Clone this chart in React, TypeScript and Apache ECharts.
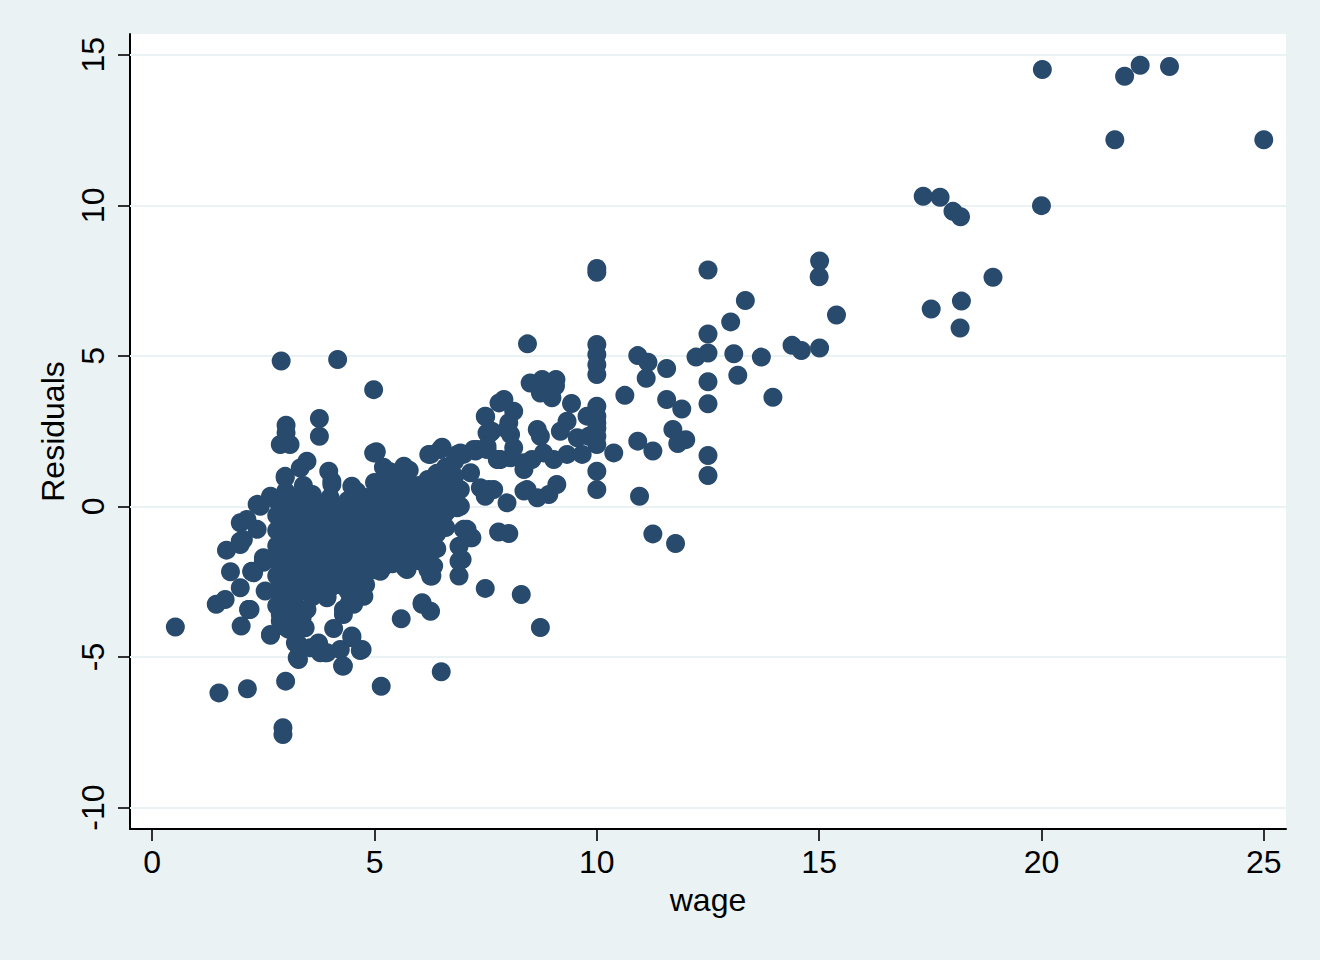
import React, { useEffect, useRef } from "react";
import * as echarts from "echarts";

// wage vs residuals
const xTicks = [0, 5, 10, 15, 20, 25];
const yTicks = [-10, -5, 0, 5, 10, 15];

// outlying / edge points: [wage, residual]
const upperPoints: number[][] = [
  [20.02, 14.51], [21.87, 14.29], [22.22, 14.65], [22.88, 14.61], [21.65, 12.18], [25.0, 12.18],
  [17.34, 10.3], [17.72, 10.27], [18.01, 9.8], [18.18, 9.62], [20.0, 9.99], [18.91, 7.61],
  [18.2, 6.82], [17.52, 6.56], [18.17, 5.93],
  [10.0, 7.9], [10.0, 7.78], [12.5, 7.85], [15.01, 8.15], [15.0, 7.63], [13.34, 6.84], [15.39, 6.36],
  [13.01, 6.13], [12.5, 5.73], [8.44, 5.4], [10.0, 5.38], [10.0, 5.05], [10.0, 4.71], [10.0, 4.38],
  [10.92, 5.01], [11.15, 4.79], [11.11, 4.26], [11.57, 4.58], [12.23, 4.96], [12.5, 5.1], [13.08, 5.07],
  [13.17, 4.36], [13.7, 4.96], [14.39, 5.35], [14.6, 5.18], [15.01, 5.26], [12.5, 4.14], [12.5, 3.41],
  [13.96, 3.63], [10.63, 3.69], [11.57, 3.55], [11.91, 3.24], [11.71, 2.56], [12.0, 2.22], [11.82, 2.09],
  [10.92, 2.17], [11.26, 1.84], [12.5, 1.69], [12.5, 1.03], [10.96, 0.34], [11.26, -0.91], [11.77, -1.23],
];

const middlePoints: number[][] = [
  [10.0, 3.33], [10.0, 3.0], [10.0, 2.78], [10.0, 2.6], [10.0, 2.33], [10.0, 2.06], [10.0, 1.17], [10.0, 0.56],
  [9.78, 3.0], [9.43, 3.42], [9.08, 4.22], [8.5, 4.1], [8.77, 4.22], [8.73, 3.77], [8.99, 3.61], [9.07, 4.0],
  [8.9, 4.1], [7.91, 3.55], [8.13, 3.16], [7.49, 3.0], [7.64, 2.5], [8.02, 2.78], [8.06, 2.39], [8.66, 2.56],
  [8.73, 2.33], [9.18, 2.5], [9.33, 2.83], [9.56, 2.28], [9.82, 2.33], [9.33, 1.73], [9.67, 1.73],
  [10.38, 1.78], [7.27, 1.84], [7.0, 1.73], [7.53, 1.89], [7.83, 1.56], [8.06, 1.62], [8.36, 1.45],
  [8.36, 1.23], [8.54, 1.56], [8.8, 1.78], [9.03, 1.56], [7.16, 1.12], [7.38, 0.62], [7.57, 0.56],
  [7.98, 0.12], [8.43, 0.56], [8.66, 0.29], [8.92, 0.4], [9.1, 0.73], [6.93, 0.56], [6.93, 0.01],
  [7.08, -0.76], [7.16, -1.04], [7.79, -0.85], [8.02, -0.9], [6.97, -1.76], [7.49, -2.72], [8.3, -2.92],
  [8.73, -4.02], [7.8, 3.44], [7.6, 2.44], [7.5, 2.98], [7.8, 1.56], [7.53, 2.44], [7.98, 2.56], [8.13, 1.95],
  [7.76, 1.56], [7.49, 0.34], [7.68, 0.56], [8.36, 0.51], [6.78, 0.51], [6.86, -0.04], [6.9, -1.32],
  [6.9, -1.82], [6.9, -2.31], [6.29, -2.31], [6.33, -1.98], [5.73, -2.04], [5.13, -2.15], [6.07, -3.2],
  [6.26, -3.48], [5.6, -3.73], [4.72, -4.75], [6.5, -5.49], [5.15, -5.97], [4.76, -2.98], [4.68, -2.31],
  [5.04, 1.82], [5.66, 1.34], [6.26, 1.73], [6.52, 1.97], [6.93, 1.78], [7.31, 1.89], [7.23, 1.89],
  [5.2, 1.3], [5.35, 1.15], [5.78, 1.2], [6.86, 1.73], [7.53, 2.0],
];

const lowerPoints: number[][] = [
  [2.9, 4.83], [4.17, 4.88], [4.98, 3.88], [3.01, 2.7], [3.01, 2.45], [2.88, 2.06], [3.1, 2.06],
  [3.76, 2.92], [3.76, 2.33], [3.48, 1.5], [3.33, 1.28], [3.97, 1.17], [4.04, 0.84], [2.99, 0.95],
  [4.49, 0.67], [4.98, 1.78], [1.98, -0.54], [2.36, 0.07], [1.98, -1.15], [1.67, -1.45], [2.5, -1.7],
  [1.98, -1.26], [1.76, -2.17], [2.24, -2.17], [2.5, -1.85], [1.98, -2.7], [2.54, -2.81], [1.44, -3.25],
  [1.64, -3.09], [2.17, -3.42], [2.0, -3.97], [0.52, -4.0], [2.66, -4.28], [2.88, -3.81], [3.26, -5.02],
  [3.29, -4.64], [3.56, -4.69], [3.89, -4.86], [4.23, -4.75], [4.49, -4.36], [4.68, -4.78], [4.28, -5.3],
  [4.08, -4.05], [3.71, -2.76], [3.93, -2.98], [4.3, -3.59], [4.53, -3.25], [4.6, -2.87], [3.0, -5.8],
  [1.5, -6.19], [2.14, -6.05], [2.94, -7.35], [2.94, -7.57], [3.03, -4.03], [3.4, -4.03],
  [2.88, -3.59], [3.26, -3.59], [2.99, 1.0], [4.04, 0.73], [5.02, 1.78], [6.22, 1.73], [6.48, 1.89],
  [2.43, 0.01], [2.13, -0.43], [2.05, -1.1], [2.5, -1.8], [2.24, -2.15], [2.17, -3.42], [2.66, -4.25],
  [5.69, -2.04], [4.3, -3.42], [4.46, -2.98], [2.95, -3.64], [3.48, -3.42], [3.33, -3.97], [3.29, -5.08],
  [3.22, -4.53], [3.78, -4.86], [2.66, 0.34], [2.36, -0.76], [2.28, -2.2], [2.2, -3.42], [2.92, -3.75],
  [3.07, -4.08], [3.29, -4.58], [3.74, -4.53], [3.93, -4.86], [4.3, -5.3], [4.49, -4.3], [4.42, -3.25],
  [3.93, -3.03], [3.37, -3.7], [3.44, -4.03], [5.73, -2.09], [6.26, -2.31], [7.19, -1.04], [7.0, -0.76],
  [6.07, -3.25],
];

// dense core of the cloud
const corePoints: number[][] = [
  [2.8, 0.2], [2.8, -0.3], [2.8, -0.8], [2.8, -1.3], [2.8, -1.8], [2.8, -2.3], [2.8, -2.8], [2.8, -3.3],
  [3.0, 0.5], [3.0, 0.0], [3.0, -0.5], [3.0, -1.0], [3.0, -1.5], [3.0, -2.0], [3.0, -2.5], [3.0, -3.0], [3.0, -3.5], [3.0, -4.0],
  [3.2, 0.3], [3.2, -0.2], [3.2, -0.7], [3.2, -1.2], [3.2, -1.7], [3.2, -2.2], [3.2, -2.7], [3.2, -3.2],
  [3.4, 0.7], [3.4, 0.2], [3.4, -0.3], [3.4, -0.8], [3.4, -1.3], [3.4, -1.8], [3.4, -2.3], [3.4, -2.8],
  [3.6, 0.4], [3.6, -0.1], [3.6, -0.6], [3.6, -1.1], [3.6, -1.6], [3.6, -2.1], [3.6, -2.6], [3.6, -3.0],
  [3.8, 0.1], [3.8, -0.4], [3.8, -0.9], [3.8, -1.4], [3.8, -1.9], [3.8, -2.4], [3.8, -2.9],
  [4.0, 0.3], [4.0, -0.2], [4.0, -0.7], [4.0, -1.2], [4.0, -1.7], [4.0, -2.2], [4.0, -2.7],
  [4.2, -0.1], [4.2, -0.6], [4.2, -1.1], [4.2, -1.6], [4.2, -2.1], [4.2, -2.6],
  [4.4, 0.2], [4.4, -0.3], [4.4, -0.8], [4.4, -1.3], [4.4, -1.8], [4.4, -2.3], [4.4, -2.8],
  [4.6, 0.5], [4.6, 0.0], [4.6, -0.5], [4.6, -1.0], [4.6, -1.5], [4.6, -2.0], [4.6, -2.5],
  [4.8, 0.3], [4.8, -0.2], [4.8, -0.7], [4.8, -1.2], [4.8, -1.7], [4.8, -2.2], [4.8, -2.6],
  [5.0, 0.8], [5.0, 0.3], [5.0, -0.2], [5.0, -0.7], [5.0, -1.2], [5.0, -1.7], [5.0, -2.1],
  [5.2, 0.9], [5.2, 0.4], [5.2, -0.1], [5.2, -0.6], [5.2, -1.1], [5.2, -1.6], [5.2, -2.0],
  [5.4, 0.5], [5.4, 0.0], [5.4, -0.5], [5.4, -1.0], [5.4, -1.5], [5.4, -1.9],
  [5.6, 0.8], [5.6, 0.3], [5.6, -0.2], [5.6, -0.7], [5.6, -1.2], [5.6, -1.7],
  [5.8, 0.7], [5.8, 0.2], [5.8, -0.3], [5.8, -0.8], [5.8, -1.3], [5.8, -1.8],
  [6.0, 0.7], [6.0, 0.2], [6.0, -0.3], [6.0, -0.8], [6.0, -1.3], [6.0, -1.8],
  [6.2, 0.9], [6.2, 0.4], [6.2, -0.1], [6.2, -0.6], [6.2, -1.1], [6.2, -1.6], [6.2, -2.1],
  [6.4, 1.1], [6.4, 0.6], [6.4, 0.1], [6.4, -0.4], [6.4, -0.9], [6.4, -1.4],
  [6.6, 1.3], [6.6, 0.8], [6.6, 0.3], [6.6, -0.2], [6.6, -0.7],
  [6.8, 1.5], [6.8, 1.0], [6.8, 0.5],
];

const allPoints = [...upperPoints, ...middlePoints, ...lowerPoints, ...corePoints];

const BG = "#eaf2f3";
const NAVY = "#284a6d";
const FONT = "'Liberation Sans', Arial, Helvetica, sans-serif";
const FS = 32;

export default function App() {
  const ref = useRef<HTMLDivElement>(null);
  useEffect(() => {
    document.body.style.margin = "0";
    document.body.style.background = BG;
    const chart = echarts.init(ref.current!, null, { renderer: "svg" });
    chart.setOption({
      animation: false,
      backgroundColor: BG,
      textStyle: { fontFamily: FONT },
      grid: {
        left: 130,
        top: 34,
        right: 34,
        bottom: 131,
        show: true,
        backgroundColor: "#ffffff",
        borderWidth: 0,
      },
      xAxis: {
        type: "value",
        min: -0.5,
        max: 25.5,
        name: "wage",
        nameLocation: "middle",
        nameGap: 55,
        nameTextStyle: { fontSize: FS, color: "#000", fontFamily: FONT },
        axisLine: { show: true, onZero: false, lineStyle: { color: "#000", width: 2 } },
        axisTick: { show: true, length: 12, customValues: xTicks, lineStyle: { color: "#000", width: 1.6 } },
        axisLabel: { customValues: xTicks, fontSize: FS, color: "#000", margin: 17, fontFamily: FONT },
        splitLine: { show: false },
      },
      yAxis: {
        type: "value",
        min: -10.71,
        max: 15.69,
        name: "Residuals",
        nameLocation: "middle",
        nameGap: 57,
        nameRotate: 90,
        nameTextStyle: { fontSize: FS, color: "#000", fontFamily: FONT },
        axisLine: { show: true, onZero: false, lineStyle: { color: "#000", width: 2 } },
        axisTick: { show: true, length: 12, customValues: yTicks, lineStyle: { color: "#000", width: 1.6 } },
        axisLabel: { customValues: yTicks, fontSize: FS, color: "#000", rotate: 90, margin: 21, fontFamily: FONT },
        splitLine: { show: false },
      },
      series: [
        {
          type: "scatter",
          data: [],
          z: 1,
          silent: true,
          markLine: {
            z: 1,
            silent: true,
            symbol: "none",
            label: { show: false },
            lineStyle: { color: BG, width: 2, type: "solid" },
            data: yTicks.map((v) => ({ yAxis: v })),
          },
        },
        {
          type: "scatter",
          z: 3,
          data: allPoints,
          symbol: "circle",
          symbolSize: 19,
          itemStyle: { color: NAVY, opacity: 1 },
        },
      ],
    });
    return () => chart.dispose();
  }, []);
  return <div ref={ref} style={{ width: 1320, height: 960, background: BG }} />;
}
